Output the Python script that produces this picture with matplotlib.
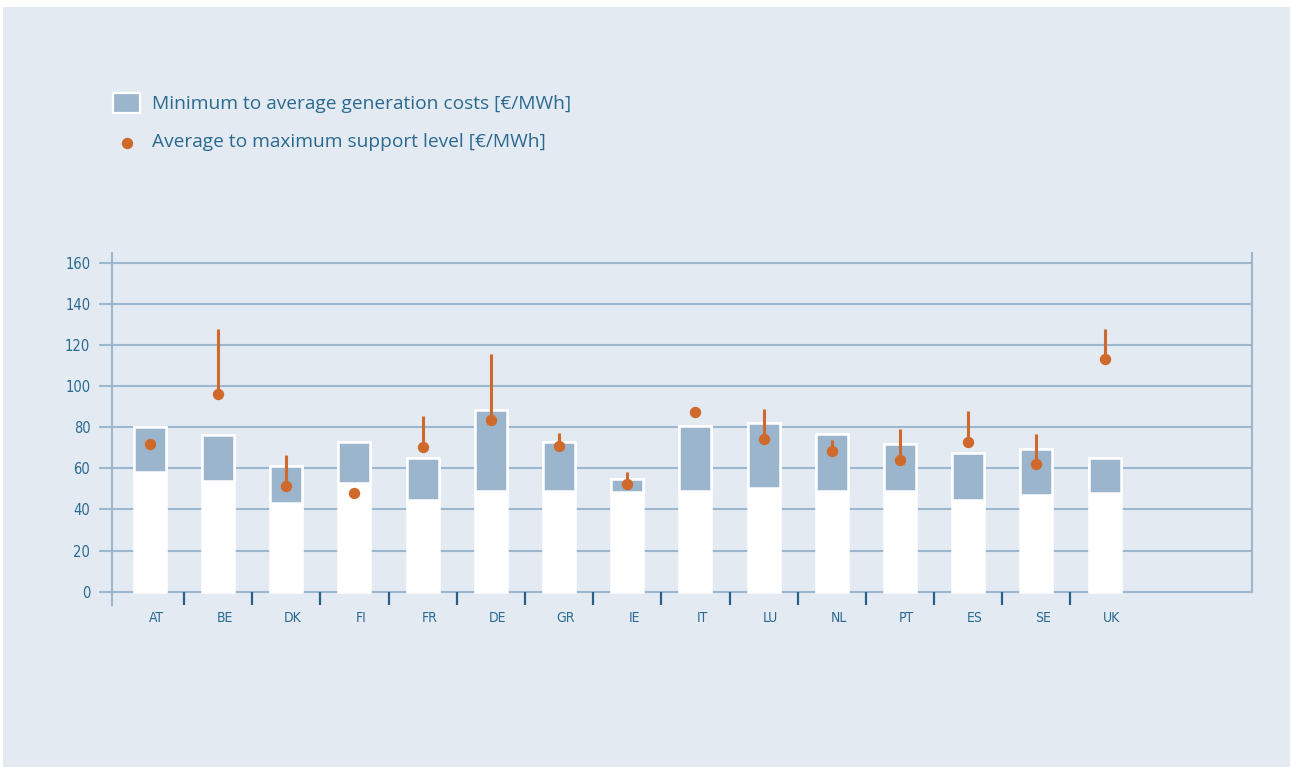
import matplotlib
matplotlib.use("Agg")
import matplotlib.pyplot as plt
from matplotlib.patches import Rectangle
from matplotlib.lines import Line2D
import numpy as np

# ---- data ----
countries = ["AT", "BE", "DK", "FI", "FR", "DE", "GR", "IE", "IT", "LU", "NL", "PT", "ES", "SE", "UK"]
gen_cost_min = [58, 54, 43, 53, 44.5, 49, 49, 48.5, 49, 50.5, 49, 49, 44.5, 47, 48]
gen_cost_avg = [80, 76, 61, 73, 65, 88.5, 73, 55, 80.5, 82, 76.5, 72, 67.5, 69.5, 65]
support_avg = [72, 96, 51.5, 48, 70.5, 83.5, 71, 52.5, 87.5, 74.5, 68.5, 64, 73, 62, 113]
support_max = [72, 128, 66.5, 48, 85.5, 115.5, 77, 58, 87.5, 89, 74, 79, 88, 76.5, 128]
yticks = [0, 20, 40, 60, 80, 100, 120, 140, 160]
legend_labels = ["Minimum to average generation costs [\u20ac/MWh]",
                 "Average to maximum support level [\u20ac/MWh]"]

# ---- style ----
BG = "#e3eaf2"
GRID = "#9db7cf"
BLUE = "#9bb5cd"
ORANGE = "#d06a2c"
TEXT = "#2b6a90"
TICKDARK = "#2a5f86"
W, H = 1292, 767

fig = plt.figure(figsize=(W / 100, H / 100), dpi=100, facecolor="white")
fig.add_artist(Rectangle((3 / W, 0), 1287 / W, 1 - 7 / H, transform=fig.transFigure,
                         facecolor=BG, edgecolor="none", zorder=0))

ax = fig.add_axes([111.7 / W, 162 / H, (1251.7 - 111.7) / W, (605 - 252.7) / H])
ax.set_facecolor(BG)
ax.set_xlim(-0.559, 16.157)
ax.set_ylim(-6.47, 164.9)

x = np.arange(len(countries))
mn = np.array(gen_cost_min)
av = np.array(gen_cost_avg)

bw = 0.47
ax.bar(x, av, width=bw, color="white", edgecolor="white", linewidth=1.8, zorder=3)
ax.bar(x, av - mn, bottom=mn, width=bw, color=BLUE, edgecolor="white", linewidth=1.8, zorder=4)

ax.vlines(x, support_avg, support_max, color=ORANGE, linewidth=2.2, zorder=5)
ax.plot(x, support_avg, "o", color=ORANGE, markersize=8.2, markeredgewidth=0, zorder=6)

# grid & axes
ax.set_yticks(yticks)
ax.set_yticklabels([str(v) for v in yticks])
ax.grid(axis="y", color=GRID, linewidth=1.5, zorder=1)
ax.set_axisbelow(True)
for s in ["top", "bottom"]:
    ax.spines[s].set_visible(False)
ax.spines["left"].set_color(GRID)
ax.spines["left"].set_linewidth(1.5)
ax.spines["right"].set_color(GRID)
ax.spines["right"].set_linewidth(1.5)
ax.spines["right"].set_bounds(0, 164.9)
ax.tick_params(axis="y", length=9.4, width=1.5, color=GRID, pad=6, labelsize=10.5, labelcolor=TEXT)

# x tick marks between categories
ax.vlines(x[:-1] + 0.5, -6.47, 0, color=TICKDARK, linewidth=1.6, zorder=2)
ax.set_xticks(x + 0.1)
ax.set_xticklabels(countries)
ax.tick_params(axis="x", length=0, pad=4, labelsize=10, labelcolor=TEXT)

condensed = ["Liberation Sans Narrow", "DejaVu Sans"]
for lab in ax.get_xticklabels() + ax.get_yticklabels():
    lab.set_family(condensed)
    lab.set_stretch("condensed")

# legend (manual)
fig.add_artist(Rectangle((113 / W, 1 - 113 / H), 27 / W, 20 / H, transform=fig.transFigure,
                         facecolor=BLUE, edgecolor="white", linewidth=1.6, zorder=5))
fig.add_artist(Line2D([127 / W], [1 - 143 / H], transform=fig.transFigure, marker="o",
                      markersize=8.2, color=ORANGE, markeredgewidth=0, linestyle="none", zorder=5))
fig.text(152 / W, 1 - 104 / H, legend_labels[0], fontsize=13.8, color=TEXT, va="center",
         ha="left", family=["Open Sans", "DejaVu Sans"])
fig.text(152 / W, 1 - 142 / H, legend_labels[1], fontsize=13.8, color=TEXT, va="center",
         ha="left", family=["Open Sans", "DejaVu Sans"])

fig.savefig("out.png", dpi=100, facecolor="white")
